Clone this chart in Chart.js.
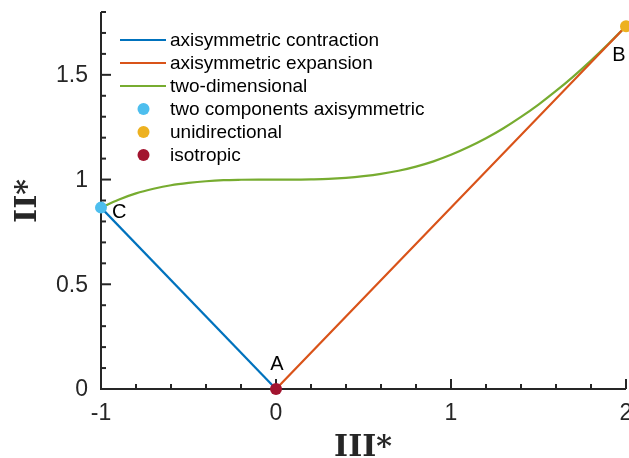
<!DOCTYPE html>
<html>
<head>
<meta charset="utf-8">
<script src="https://cdn.jsdelivr.net/npm/chart.js@4.4.0/dist/chart.umd.min.js"></script>
<style>
  body { margin: 0; background: #fff; }
  canvas { display: block; }
</style>
</head>
<body>
<canvas id="lumley" width="629" height="458"></canvas>
<script>
// データ
const seriesNames = ['axisymmetric contraction', 'axisymmetric expansion', 'two-dimensional',
                     'two components axisymmetric', 'unidirectional', 'isotropic'];
const contractionX = [-1, 0];
const contractionY = [0.866, 0];
const expansionX = [0, 2];
const expansionY = [0, 1.732];
const twoDimX = [-1, -0.9, -0.8, -0.7, -0.6, -0.5, -0.4, -0.3, -0.2, -0.1, 0,
                 0.1, 0.2, 0.3, 0.4, 0.5, 0.6, 0.7, 0.8, 0.9, 1,
                 1.1, 1.2, 1.3, 1.4, 1.5, 1.6, 1.7, 1.8, 1.9, 2];
const twoDimY = [0.866, 0.904, 0.934, 0.956, 0.973, 0.984, 0.992, 0.997, 0.999, 1.0, 1.0,
                 1.0, 1.001, 1.003, 1.008, 1.016, 1.027, 1.042, 1.062, 1.087, 1.118,
                 1.155, 1.197, 1.245, 1.299, 1.358, 1.423, 1.493, 1.568, 1.648, 1.732];
const pointC = [-1, 0.866];
const pointB = [2, 1.732];
const pointA = [0, 0];
const pointNames = ['C', 'B', 'A'];
const xTicks = [-1, 0, 1, 2];
const yTicks = [0, 0.5, 1, 1.5];

const colors = ['#0072BD', '#D95319', '#77AC30', '#4DBEEE', '#EDB120', '#A2142F'];
const axisColor = '#262626';

function xy(xs, ys) {
    return xs.map((x, i) => ({ x: x, y: ys[i] }));
}

function lineSet(i, xs, ys) {
    return {
        label: seriesNames[i], data: xy(xs, ys), showLine: true,
        borderColor: colors[i], borderWidth: 2.2, pointRadius: 0,
        cubicInterpolationMode: 'monotone', order: 2
    };
}
function dotSet(i, p) {
    return {
        label: seriesNames[i], data: [{ x: p[0], y: p[1] }], showLine: false,
        backgroundColor: colors[i], borderWidth: 0, pointRadius: 6, pointHoverRadius: 6,
        clip: false, order: 1
    };
}

// 軸・目盛り・ラベル・凡例を自前で描く
const drawExtras = {
    id: 'drawExtras',
    beforeDatasetsDraw(chart) {
        const ctx = chart.ctx, xs = chart.scales.x, ys = chart.scales.y;
        const area = chart.chartArea;
        ctx.save();
        ctx.strokeStyle = axisColor;
        ctx.lineWidth = 2;
        ctx.beginPath();
        ctx.moveTo(area.left, area.top);
        ctx.lineTo(area.left, area.bottom);
        ctx.lineTo(area.right, area.bottom);
        ctx.stroke();
        for (let k = 0; k <= 15; k++) {//x目盛り 0.2刻み
            const px = xs.getPixelForValue(-1 + k * 0.2);
            const len = (k % 5 === 0) ? 10 : 5;
            ctx.beginPath();
            ctx.moveTo(px, area.bottom);
            ctx.lineTo(px, area.bottom - len);
            ctx.stroke();
        }
        for (let k = 0; k <= 18; k++) {//y目盛り 0.1刻み
            const py = ys.getPixelForValue(k * 0.1);
            const len = (k % 5 === 0) ? 10 : 5;
            ctx.beginPath();
            ctx.moveTo(area.left, py);
            ctx.lineTo(area.left + len, py);
            ctx.stroke();
        }
        // 目盛りラベル
        ctx.fillStyle = axisColor;
        ctx.font = '23px "Liberation Sans"';
        ctx.textAlign = 'center';
        ctx.textBaseline = 'top';
        xTicks.forEach(v => ctx.fillText(String(v), xs.getPixelForValue(v), area.bottom + 13));
        ctx.textAlign = 'right';
        ctx.textBaseline = 'middle';
        yTicks.forEach(v => ctx.fillText(String(v), area.left - 13, ys.getPixelForValue(v) + 1));
        ctx.restore();
    },
    afterDraw(chart) {
        const ctx = chart.ctx, xs = chart.scales.x, ys = chart.scales.y;
        ctx.save();
        // 点ラベル
        ctx.fillStyle = '#000';
        ctx.font = '20px "Liberation Sans"';
        ctx.textBaseline = 'middle';
        ctx.textAlign = 'left';
        ctx.fillText(pointNames[0], xs.getPixelForValue(pointC[0]) + 11, ys.getPixelForValue(pointC[1]) + 5);
        ctx.textAlign = 'center';
        ctx.fillText(pointNames[1], xs.getPixelForValue(pointB[0]) - 7, ys.getPixelForValue(pointB[1]) + 29);
        ctx.fillText(pointNames[2], xs.getPixelForValue(pointA[0]) + 1, ys.getPixelForValue(pointA[1]) - 25);

        // 凡例
        ctx.font = '19px "Liberation Sans"';
        ctx.textAlign = 'left';
        for (let i = 0; i < seriesNames.length; i++) {
            const y = 40 + i * 23;
            if (i < 3) {
                ctx.strokeStyle = colors[i];
                ctx.lineWidth = 2.2;
                ctx.beginPath();
                ctx.moveTo(120, y);
                ctx.lineTo(166, y);
                ctx.stroke();
            } else {
                ctx.fillStyle = colors[i];
                ctx.beginPath();
                ctx.arc(143.5, y, 6, 0, Math.PI * 2);
                ctx.fill();
            }
            ctx.fillStyle = '#000';
            ctx.fillText(seriesNames[i], 170, y + 1);
        }

        // 軸タイトル
        ctx.fillStyle = axisColor;
        ctx.font = 'bold 30px "DejaVu Serif"';
        ctx.textAlign = 'center';
        ctx.textBaseline = 'alphabetic';
        ctx.fillText('III*', 363, 456);
        ctx.translate(36, 201);
        ctx.rotate(-Math.PI / 2);
        ctx.fillText('II*', 0, 0);
        ctx.restore();
    }
};

new Chart(document.getElementById('lumley'), {
    type: 'scatter',
    data: {
        datasets: [
            lineSet(0, contractionX, contractionY),
            lineSet(1, expansionX, expansionY),
            lineSet(2, twoDimX, twoDimY),
            dotSet(3, pointC),
            dotSet(4, pointB),
            dotSet(5, pointA)
        ]
    },
    options: {
        responsive: false,
        devicePixelRatio: 1,
        animation: false,
        layout: { autoPadding: false, padding: { top: 12, right: 3, left: 0, bottom: 0 } },
        plugins: { legend: { display: false }, tooltip: { enabled: false } },
        scales: {
            x: {
                type: 'linear', min: -1, max: 2,
                grid: { display: false, drawTicks: false },
                border: { display: false },
                ticks: { display: false },
                afterFit: s => { s.height = 69; }
            },
            y: {
                type: 'linear', min: 0, max: 1.8,
                grid: { display: false, drawTicks: false },
                border: { display: false },
                ticks: { display: false },
                afterFit: s => { s.width = 101; }
            }
        }
    },
    plugins: [drawExtras]
});
</script>
</body>
</html>
